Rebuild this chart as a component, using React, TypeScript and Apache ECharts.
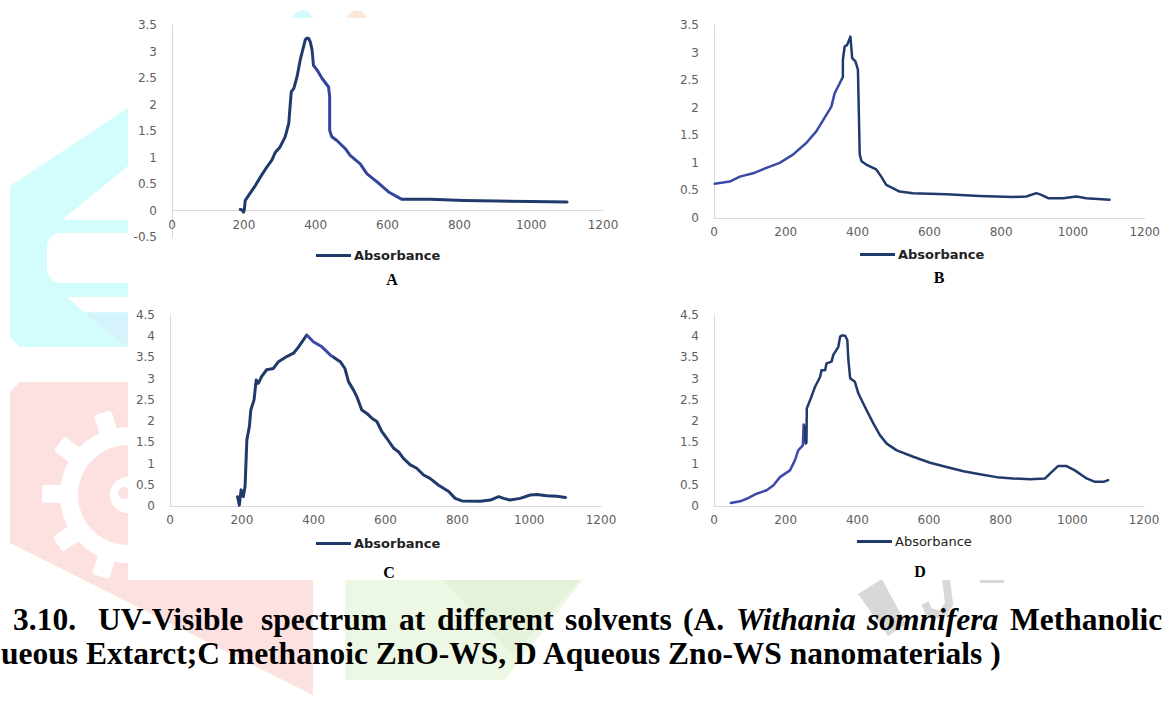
import React, { useEffect, useRef } from "react";
import * as echarts from "echarts";

const seriesName = "Absorbance";
const panelLabels = ["A", "B", "C", "D"];
const xMin = 0;
const xMax = 1200;
const xStep = 200;
const yStep = 0.5;
const yMins = [-0.5, 0, 0, 0];
const yMaxs = [3.5, 3.5, 4.5, 4.5];

// Panel A: Withania somnifera methanolic extract
const wlA = [190, 197, 199, 201, 204, 213, 232, 246, 264, 278, 288, 301, 315, 325, 332, 339, 348, 357, 371, 375, 380, 385, 390, 394, 404, 418, 436, 439, 439, 445, 459, 482, 496, 524, 543, 571, 603, 640, 719, 812, 905, 998, 1100];
const absA = [0.02, 0.0, -0.03, 0.0, 0.19, 0.28, 0.47, 0.63, 0.82, 0.95, 1.1, 1.2, 1.39, 1.64, 2.24, 2.3, 2.52, 2.84, 3.22, 3.25, 3.25, 3.18, 3.03, 2.74, 2.65, 2.49, 2.33, 2.14, 1.51, 1.39, 1.32, 1.17, 1.04, 0.88, 0.69, 0.54, 0.35, 0.21, 0.21, 0.19, 0.18, 0.17, 0.16];

// Panel B: aqueous extract
const wlB = [2, 44, 72, 109, 146, 183, 220, 257, 285, 313, 327, 336, 350, 359, 359, 364, 371, 380, 385, 394, 401, 406, 411, 424, 452, 466, 480, 517, 554, 647, 740, 833, 870, 898, 912, 931, 972, 1010, 1037, 1102];
const absB = [0.62, 0.66, 0.75, 0.81, 0.91, 1.0, 1.15, 1.36, 1.57, 1.87, 2.02, 2.26, 2.44, 2.56, 2.87, 3.11, 3.14, 3.29, 2.9, 2.84, 2.69, 1.15, 1.03, 0.97, 0.88, 0.75, 0.6, 0.48, 0.45, 0.43, 0.4, 0.38, 0.39, 0.45, 0.42, 0.36, 0.36, 0.39, 0.36, 0.33];

// Panel C: methanolic ZnO-WS
const wlC = [188, 193, 198, 204, 209, 214, 221, 225, 234, 240, 246, 255, 269, 288, 302, 325, 344, 358, 381, 399, 423, 446, 474, 487, 497, 511, 520, 534, 548, 562, 576, 590, 604, 623, 636, 650, 669, 687, 706, 724, 748, 776, 794, 813, 864, 892, 915, 929, 947, 975, 1003, 1022, 1049, 1077, 1101];
const absC = [0.22, 0.02, 0.38, 0.22, 0.46, 1.56, 1.87, 2.26, 2.5, 2.97, 2.89, 3.05, 3.21, 3.24, 3.4, 3.52, 3.6, 3.75, 4.03, 3.87, 3.75, 3.56, 3.4, 3.24, 2.93, 2.73, 2.58, 2.26, 2.18, 2.07, 1.99, 1.75, 1.59, 1.36, 1.28, 1.12, 0.97, 0.89, 0.73, 0.65, 0.49, 0.34, 0.18, 0.12, 0.11, 0.14, 0.22, 0.18, 0.14, 0.18, 0.26, 0.27, 0.24, 0.23, 0.2];

// Panel D: aqueous ZnO-WS
const wlD = [47, 73, 91, 119, 147, 166, 184, 212, 226, 235, 248, 250, 253, 256, 258, 259, 268, 282, 296, 300, 310, 314, 328, 333, 347, 352, 358, 366, 372, 375, 380, 393, 403, 421, 445, 463, 482, 510, 556, 603, 649, 696, 742, 789, 835, 882, 924, 942, 960, 984, 1007, 1040, 1063, 1087, 1100];
const absD = [0.07, 0.11, 0.17, 0.29, 0.37, 0.49, 0.68, 0.84, 1.08, 1.31, 1.43, 1.92, 1.85, 1.47, 1.5, 2.3, 2.49, 2.81, 3.04, 3.2, 3.2, 3.36, 3.4, 3.56, 3.75, 3.99, 4.02, 4.01, 3.91, 3.44, 3.01, 2.93, 2.65, 2.34, 1.94, 1.67, 1.47, 1.31, 1.16, 1.02, 0.92, 0.82, 0.75, 0.68, 0.65, 0.63, 0.65, 0.8, 0.94, 0.94, 0.84, 0.65, 0.57, 0.57, 0.61];

const wavelengths = [wlA, wlB, wlC, wlD];
const absorbances = [absA, absB, absC, absD];

// caption (line 1 is justified in the source, so its words are laid out one by one)
const captionWords1 = ["3.10.", "UV-Visible", "spectrum", "at", "different", "solvents", "(A.", "Withania", "somnifera", "Methanolic"];
const captionItalic1 = [false, false, false, false, false, false, false, true, true, false];
const captionLine2 = "ueous Extarct;C methanoic ZnO-WS, D Aqueous Zno-WS nanomaterials )";

// layout (pixels)
const captionWordX = [13, 98, 261, 399, 437, 565, 683, 736, 867, 1010];
const grids = [
  { left: 172, top: 25, width: 431, height: 212 },
  { left: 714, top: 25, width: 431, height: 193 },
  { left: 170, top: 315, width: 431, height: 191 },
  { left: 714, top: 315, width: 430, height: 191 },
];
const xAxisOffsets = [-26.5, 0, 0, 0];
const legendPos = [
  { left: 316, top: 249, bold: true },
  { left: 860, top: 248, bold: true },
  { left: 316, top: 537, bold: true },
  { left: 857, top: 535, bold: false },
];
const letterPos = [
  [392, 279],
  [939, 277],
  [389, 572],
  [920, 571],
];
const lineWidths = [3, 2.5, 3, 2.5];
const navy = "#1f3a6b";
// wavelength bands where the trace is a lighter, bluer purple
const lightBands = [
  [[392, 640]],
  [[0, 358]],
  [[378, 455]],
  [[0, 252]],
];
const lightColors = ["#34449a", "#3a4ba5", "#3d4aa5", "#4047ad"];

function bandGradient(i: number) {
  const wl = wavelengths[i];
  const lo = Math.min(...wl);
  const hi = Math.max(...wl);
  const f = (v: number) => Math.max(0, Math.min(1, (v - lo) / (hi - lo)));
  const stops: { offset: number; color: string }[] = [];
  let cur = 0;
  for (const [a, b] of lightBands[i]) {
    const fa = f(a);
    const fb = f(b);
    if (fa > cur) {
      stops.push({ offset: cur, color: navy }, { offset: fa, color: navy });
    }
    stops.push({ offset: fa, color: lightColors[i] }, { offset: fb, color: lightColors[i] });
    cur = fb;
  }
  if (cur < 1) stops.push({ offset: cur, color: navy }, { offset: 1, color: navy });
  return new echarts.graphic.LinearGradient(0, 0, 1, 0, stops);
}

function buildOption() {
  const tickFont = { color: "#606060", fontSize: 12, fontFamily: "DejaVu Sans" };
  const xAxis = grids.map((_, i) => ({
    type: "value",
    gridIndex: i,
    min: xMin,
    max: xMax,
    interval: xStep,
    offset: xAxisOffsets[i],
    z: 20,
    axisLine: { show: true, onZero: false, lineStyle: { color: "#d9d9d9", width: 1 } },
    axisTick: { show: false },
    splitLine: { show: false },
    axisLabel: { ...tickFont, margin: 8, formatter: (v: number) => String(v) },
  }));
  const yAxis = grids.map((_, i) => ({
    type: "value",
    gridIndex: i,
    min: yMins[i],
    max: yMaxs[i],
    interval: yStep,
    z: 20,
    axisLine: { show: true, onZero: false, lineStyle: { color: "#d9d9d9", width: 1 } },
    axisTick: { show: false },
    splitLine: { show: false },
    axisLabel: { ...tickFont, margin: 15, formatter: (v: number) => String(v) },
  }));
  const series = grids.map((_, i) => ({
    type: "line",
    name: seriesName,
    xAxisIndex: i,
    yAxisIndex: i,
    symbol: "none",
    z: 30,
    lineStyle: { color: bandGradient(i), width: lineWidths[i], join: "round", cap: "round" },
    itemStyle: { color: navy },
    data: wavelengths[i].map((w, k) => [w, absorbances[i][k]]),
  }));
  const legend = legendPos.map((p) => ({
    left: p.left,
    top: p.top,
    padding: 0,
    icon: "rect",
    itemWidth: 35,
    itemHeight: 3,
    z: 30,
    selectedMode: false,
    itemStyle: { color: navy },
    data: [{ name: seriesName, itemStyle: { color: navy } }],
    textStyle: {
      color: "#222",
      fontSize: 13,
      fontWeight: p.bold ? "bold" : "normal",
      fontFamily: "DejaVu Sans",
      padding: [0, 0, 0, -2],
    },
  }));

  const cyan = "#d3fcfd";
  const red = "#fde1e1";
  const green = "#ecf8e3";
  const greenDark = "#e3f2d9";
  const gray = "#d8d8d8";
  const gearC = [128, 495];
  const teeth = [] as any[];
  for (let k = 0; k < 10; k++) {
    teeth.push({
      type: "rect",
      x: gearC[0],
      y: gearC[1],
      rotation: (k * Math.PI * 2) / 10 + 0.3,
      z: 3,
      shape: { x: -9, y: -86, width: 18, height: 26, r: 3 },
      style: { fill: "#ffffff" },
    });
  }
  const captionFont = 'bold 31.5px "Liberation Serif"';
  const captionItalicFont = 'italic bold 31.5px "Liberation Serif"';
  const graphic = [
    // watermark: cyan
    {
      type: "polygon", z: 1,
      shape: { points: [[10, 186], [128, 108], [128, 347], [20, 347], [10, 337]] },
      style: { fill: cyan },
    },
    { type: "polygon", z: 2, shape: { points: [[128, 166], [62, 220], [128, 220]] }, style: { fill: "#ffffff" } },
    { type: "rect", z: 2, shape: { x: 47, y: 233, width: 100, height: 50, r: [14, 0, 0, 14] }, style: { fill: "#ffffff" } },
    { type: "polygon", z: 2, shape: { points: [[67, 297], [128, 297], [128, 312], [84, 312]] }, style: { fill: "#ffffff" } },
    { type: "polygon", z: 2, shape: { points: [[84, 313], [128, 313], [128, 347]] }, style: { fill: "#d6f2fb" } },
    { type: "polygon", z: 1, shape: { points: [[292, 18], [297, 12], [303, 10], [309, 12], [313, 18]] }, style: { fill: cyan } },
    { type: "polygon", z: 1, shape: { points: [[346, 18], [351, 12], [357, 10], [363, 12], [367, 18]] }, style: { fill: "#fde8d8" } },
    // watermark: red with gear
    {
      type: "polygon", z: 1,
      shape: { points: [[10, 392], [20, 382], [313, 382], [313, 695], [10, 543]] },
      style: { fill: red },
    },
    ...teeth,
    { type: "circle", z: 3, shape: { cx: gearC[0], cy: gearC[1], r: 68 }, style: { fill: "#ffffff" } },
    { type: "circle", z: 4, shape: { cx: gearC[0], cy: gearC[1], r: 50 }, style: { fill: red } },
    { type: "circle", z: 4, shape: { cx: gearC[0], cy: gearC[1], r: 18 }, style: { fill: "#ffffff" } },
    { type: "circle", z: 4, shape: { cx: gearC[0] - 4, cy: gearC[1] - 2, r: 6 }, style: { fill: red } },
    // watermark: green
    { type: "polygon", z: 1, shape: { points: [[345, 560], [598, 560], [505, 680], [345, 680]] }, style: { fill: green } },
    { type: "polygon", z: 2, shape: { points: [[425, 560], [598, 560], [513, 655]] }, style: { fill: greenDark } },
    // watermark: gray strokes
    { type: "polygon", z: 1, shape: { points: [[858, 594], [882, 579], [906, 624], [888, 636]] }, style: { fill: gray } },
    {
      type: "polyline", z: 1,
      shape: { points: [[946, 578], [949, 604], [941, 615], [929, 612], [925, 603]] },
      style: { stroke: gray, lineWidth: 8, fill: null },
    },
    { type: "rect", z: 1, shape: { x: 980, y: 577, width: 24, height: 6 }, style: { fill: gray } },
    // white area of the chart images
    { type: "rect", z: 5, shape: { x: 128, y: 18, width: 1040, height: 562 }, style: { fill: "#ffffff" } },
    // panel letters
    ...panelLabels.map((t, i) => ({
      type: "text", z: 40,
      x: letterPos[i][0], y: letterPos[i][1],
      style: {
        text: t, fill: "#000", align: "center", verticalAlign: "middle",
        font: 'bold 16px "Liberation Serif"',
      },
    })),
    // caption line 1 (justified)
    ...captionWords1.map((w, i) => ({
      type: "text", z: 40, x: captionWordX[i], y: 619.5,
      style: {
        text: w, fill: "#000", verticalAlign: "middle",
        font: captionItalic1[i] ? captionItalicFont : captionFont,
      },
    })),
    // caption line 2
    {
      type: "text", z: 40, x: 1, y: 653,
      style: {
        text: captionLine2, fill: "#000", verticalAlign: "middle",
        font: captionFont,
      },
    },
  ];

  return {
    animation: false,
    backgroundColor: "#ffffff",
    grid: grids.map((g) => ({ ...g, containLabel: false })),
    xAxis,
    yAxis,
    series,
    legend,
    graphic,
  };
}

export default function App() {
  const ref = useRef<HTMLDivElement>(null);
  useEffect(() => {
    if (!ref.current) return;
    const chart = echarts.init(ref.current, undefined, { renderer: "svg" });
    chart.setOption(buildOption() as any);
    return () => chart.dispose();
  }, []);
  return (
    <div
      ref={ref}
      style={{ position: "absolute", left: 0, top: 0, width: 1163, height: 710, overflow: "hidden" }}
    />
  );
}
